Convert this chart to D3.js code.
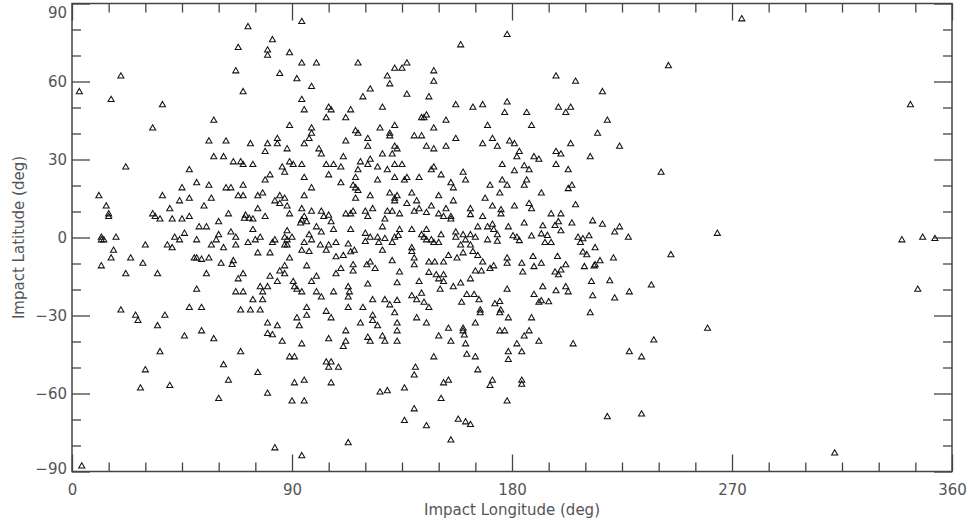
<!DOCTYPE html>
<html>
<head>
<meta charset="utf-8">
<script src="https://cdn.jsdelivr.net/npm/d3@7"></script>
<style>
  body { margin: 0; background: #fff; }
  text { font-family: "DejaVu Sans", sans-serif; }
</style>
</head>
<body>
<svg id="chart" width="968" height="525"></svg>
<script>
// Impact sites, [longitude deg, latitude deg] ------------------------
const impactPoints = [
  [72,81],[82,76],[68,73],[80,72],[80,70],[89,71],[67,64],[85,63],[20,62],[3,56],
  [70,56],[16,53],[37,51],[58,45],[89,43],[33,42],[84,38],[56,37],[63,37],[73,36],
  [80,36],[84,36],[88,34],[79,33],[58,31],[62,31],[94,83],[178,78],[159,74],[94,67],
  [100,67],[117,67],[137,67],[132,65],[135,65],[148,64],[92,61],[129,62],[130,59],[148,60],
  [98,58],[122,57],[119,54],[137,55],[146,54],[94,53],[95,49],[105,50],[106,49],[114,49],
  [127,50],[157,51],[164,50],[168,51],[178,52],[177,48],[104,46],[112,46],[143,46],[144,46],
  [145,47],[153,45],[98,42],[98,40],[126,42],[132,43],[170,43],[148,42],[116,41],[117,40],
  [130,40],[130,39],[97,38],[95,36],[112,37],[121,38],[121,35],[140,39],[143,39],[157,38],
  [172,38],[168,36],[174,35],[179,37],[132,35],[133,34],[131,32],[145,35],[148,34],[153,35],
  [101,34],[102,32],[111,31],[127,32],[122,30],[244,66],[198,62],[206,60],[217,56],[199,50],
  [204,50],[202,48],[186,48],[219,45],[188,43],[215,40],[181,36],[204,36],[224,35],[183,33],
  [198,33],[200,32],[182,31],[189,31],[191,30],[212,31],[66,29],[69,29],[70,28],[74,28],
  [89,29],[22,27],[48,26],[86,27],[87,25],[81,24],[79,22],[51,21],[45,19],[56,20],
  [63,19],[65,19],[70,20],[11,16],[37,16],[44,14],[48,15],[57,15],[68,16],[70,16],
  [76,16],[78,17],[85,16],[87,15],[83,14],[85,13],[88,12],[14,12],[40,11],[54,12],
  [76,11],[64,9],[89,9],[15,9],[15,8],[33,9],[34,8],[36,7],[41,7],[45,7],
  [48,8],[60,6],[71,8.5],[72.5,7.3],[70.5,7.3],[74,7],[79,8],[52,4],[55,4],[74,3],
  [88,2.5],[46,1.5],[42,0],[44,-1],[60,1],[65,2],[67,0],[12,0],[12,-1],[13,-1],
  [18,0],[51,-1],[59,-1],[75,-1],[77,0],[83,-1],[87,0],[88,-1],[30,-3],[39,-3],
  [41,-4],[57,-3],[62,-4],[67,-3],[72,-2],[82,-2],[87,-3],[88,-3],[17,-5],[81,-6],
  [76,-6],[16,-8],[24,-8],[50,-8],[51,-8],[53,-8.5],[56,-8],[66,-9],[89,-8],[12,-11],
  [29,-10],[61,-10],[65.5,-10.5],[87,-11],[22,-14],[35,-14],[55,-14],[70,-14],[85,-13],[87,-14],
  [68,-16],[81,-15],[84,-17],[77,-19],[80,-19],[51,-20],[67,-21],[70,-21],[78,-21],[74,-24],
  [78,-24],[20,-28],[48,-27],[53,-27],[69,-28],[73,-28],[77,-28],[26,-30],[27,-32],[38,-30],
  [35,-34],[46,-38],[53,-36],[58,-39],[80,-33],[84,-34],[80,-37],[82,-37.5],[86,-40],[89,-46],
  [36,-44],[69,-44],[62,-49],[30,-51],[76,-52],[64,-55],[28,-58],[40,-57],[60,-62],[80,-60],
  [90,-63],[83,-81],[4,-88],[96,-30],[104,-28.5],[92,-31],[93,-34],[106,-31],[123,-30],[123,-32],
  [118,-33],[125,-34],[132,-29],[141,-31],[145,-33],[133,-33],[133,-36],[154,-35],[160,-35],[160,-36],
  [160.5,-37.6],[165,-33],[167,-29],[175,-29],[178.5,-31],[175,-36],[177,-36],[112,-36],[112,-40],[111,-42],
  [105,-39],[121,-38.5],[122,-40],[127,-38],[128,-40],[133,-40],[150,-38],[155,-40],[161,-41],[94,-41],
  [91,-46],[104,-48],[106,-48],[105,-50],[109,-50],[148,-46],[161.5,-45],[165,-46],[178.5,-44],[178.5,-47],
  [140.5,-50],[140,-53],[166,-51],[91,-56],[95,-55],[106,-56],[126,-59.5],[129,-59],[136,-58],[152,-56],
  [154,-55],[172,-55],[171,-57],[151,-62],[95,-63],[178,-63],[140,-66],[136,-70.5],[145,-72.5],[158,-70],
  [161,-71],[163,-72],[113,-79],[155,-78],[94,-84],[188,-31],[212,-29],[187,-36],[185,-38],[191,-40],
  [205,-41],[182,-41],[184,-44],[238,-39.5],[260,-35],[228,-44],[233,-46],[184,-55],[184,-56.5],[219,-69],
  [233,-68],[90.5,28],[94,28],[104,28],[107,28],[110,27],[118,29],[121,28],[125,27],[132,28],
  [135,28],[129,26],[117,26],[148,27],[147,26],[151,24],[160,25],[176,28],[95,23],[105,24],
  [116,23],[125,22],[132,23],[137,23],[136,22],[142,23],[155,21],[161,22],[156,19],[171,20],
  [176,22],[178,20],[110,21],[115,20],[116,19],[98,19],[117,18],[116,15],[122,16],[130,17],
  [139,17],[133,16],[132,15],[132,14],[150,16],[169,15],[175,17],[95,16],[137,13],[141,14],
  [156,14],[94,11],[98,10],[102,10],[105,8.5],[103,8],[95,8],[115,10],[112,9],[114,9],
  [120,10],[123,11],[121,8],[129,10],[131,10],[134,9],[140,10],[142,11],[145,9.5],[147,12],
  [153,11],[150,9],[152,8],[155,8],[155,7],[163,11],[163,8.7],[172,12],[175.5,10.6],[175.5,9],
  [168,8],[94,6.6],[96,6],[93.5,5.5],[100,4],[106,6],[107,3],[102,2],[97,1],[98,-1],
  [95,-2],[90,0],[114,3],[120,1.5],[127,4],[128,7],[122,0],[125,0],[128,-0.5],[125.5,-2],
  [131,-2],[132,0],[133.5,0.7],[134,3],[139,3],[145,3],[143,1],[144,0],[147,-1],[148,-2],
  [150,-2],[145,-1],[151,1],[157,2],[160,1],[163,1],[165,0],[157,0],[161,-1],[159,-3],
  [163,-3],[164,-5.5],[160,-6],[157.5,-8],[154,-7],[166,-7],[166,4],[170,4],[172,5],[172.5,3],
  [174,1],[170,-1],[174,-1.5],[178.5,4],[105,-3],[108,-2],[104,-5],[101.6,-3],[94,-5],[97,-5.5],
  [113,-2.6],[114,-5.6],[115.5,-5],[111,-7],[108,-7.5],[120,-1.6],[127,-5],[139,-4],[139,-5.5],[140,-8],
  [131,-9],[96,-11],[115,-10.6],[115,-13],[110,-12],[122,-9.5],[120.6,-10.6],[124,-12],[140,-10.6],[146,-9.5],
  [148.4,-9.5],[152,-9.5],[168,-9.5],[172.5,-11],[178,-8],[178,-10],[165,-13],[167.5,-13],[171,-12],[108,-14],
  [100,-15],[134,-13.4],[146,-13.5],[149,-14.4],[152,-14.4],[150,-16],[152,-17],[163,-16],[90.5,-17],[98,-17],
  [91,-19],[92,-20],[94,-21],[100,-21],[102,-23],[107,-21],[113,-19],[113.5,-21],[113,-23],[121,-18],
  [133,-17.5],[142,-17],[150.6,-20],[156,-19],[159,-17.6],[161.5,-22],[164.5,-22],[166.5,-24],[178,-20],[139,-22.5],
  [143,-21.5],[141,-24],[144,-25],[146,-27],[123,-24],[128,-24],[133,-24.3],[130,-26],[159.4,-25],[175,-24.7],
  [173,-25.6],[175.4,-28],[167,-28],[96,-27],[113,-27],[119,-27],[198,28],[203,26],[185,27.5],[187,26],
  [181,25.6],[241,25],[186,22],[185,20],[204.5,20],[203,18.7],[192,17],[181,12],[187,13],[188,11],
  [206,12.5],[196,9],[200,9],[199,6],[197.6,4.5],[200,2.5],[185,5.5],[192.6,4.4],[204.5,5.5],[213,6.3],
  [217,5],[224,4],[222,2],[227.6,0],[264,1.5],[245,-6.7],[180.4,0.6],[182,0],[183,-1.3],[188,0.5],
  [192,1.3],[194.5,0.7],[193.5,-2],[196,-2],[207,0],[209,-0.6],[211.5,0.6],[208,-2],[214,-4],[209,-5.7],
  [210.6,-6.7],[216,-9],[214,-10.6],[213.6,-11],[209.6,-11.3],[221.5,-8],[188.6,-7.4],[198.6,-7.4],[184,-10],[189,-11.3],
  [192,-10],[202,-10.6],[184.4,-13.4],[197.6,-13.4],[200,-12.6],[199,-14.4],[212.5,-17],[220,-16.7],[237,-18.4],[192.6,-19],
  [198,-20.6],[202,-19],[203,-21],[213,-22.5],[222,-23.4],[228,-21],[189,-22],[191,-25],[192,-24.4],[195,-24.8],
  [274,84],[343,51],[339.5,-1],[348,0],[353,-0.5],[346,-20],[312,-83]
];

// Axis ticks ---------------------------------------------------------
const lonMajor = [0, 90, 180, 270, 360];
const lonMinor = [15, 30, 45, 60, 75, 105, 120, 135, 150, 165, 195, 210, 225, 240, 255,
                  285, 300, 315, 330, 345];
const latMajor = [-90, -60, -30, 0, 30, 60, 90];
const latMinor = [-80, -70, -50, -40, -20, -10, 10, 20, 40, 50, 70, 80];

const margin = { top: 3.5, right: 16, bottom: 53.5, left: 72 },
      fullW = 968, fullH = 525,
      width = fullW - margin.left - margin.right,
      height = fullH - margin.top - margin.bottom;

const svg = d3.select("#chart").append("g")
  .attr("transform", `translate(${margin.left},${margin.top})`);

const x = d3.scaleLinear().domain([0, 360]).range([0, width]);
const y = d3.scaleLinear().domain([-90, 90]).range([height, 0]);

const fmt = d => d < 0 ? "\u2212" + Math.abs(d) : String(d);
const axisCol = "#444";

function styleAxis(g) {
  g.select(".domain").remove();
  g.selectAll(".tick line").attr("stroke", axisCol).attr("stroke-width", 1.3);
  g.selectAll(".tick text").attr("fill", "#555").style("font-size", "15px");
}

// Minor ticks (all four sides) --------------------------------------
svg.append("g").attr("transform", `translate(0,${height})`)
  .call(d3.axisBottom(x).tickValues(lonMinor).tickSize(-9).tickFormat(""))
  .call(styleAxis);
svg.append("g")
  .call(d3.axisTop(x).tickValues(lonMinor).tickSize(-9).tickFormat(""))
  .call(styleAxis);
svg.append("g")
  .call(d3.axisLeft(y).tickValues(latMinor).tickSize(-9).tickFormat(""))
  .call(styleAxis);
svg.append("g").attr("transform", `translate(${width},0)`)
  .call(d3.axisRight(y).tickValues(latMinor).tickSize(-9).tickFormat(""))
  .call(styleAxis);

// Major ticks -------------------------------------------------------
svg.append("g").attr("transform", `translate(0,${height})`)
  .call(d3.axisBottom(x).tickValues(lonMajor).tickSize(-17).tickPadding(13).tickFormat(fmt))
  .call(styleAxis);
svg.append("g")
  .call(d3.axisTop(x).tickValues(lonMajor).tickSize(-17).tickFormat(""))
  .call(styleAxis);
const yAxisG = svg.append("g")
  .call(d3.axisLeft(y).tickValues(latMajor).tickSize(-18).tickPadding(5).tickFormat(fmt))
  .call(styleAxis);
svg.append("g").attr("transform", `translate(${width},0)`)
  .call(d3.axisRight(y).tickValues(latMajor).tickSize(-18).tickFormat(""))
  .call(styleAxis);

// keep the end labels inside the picture
yAxisG.selectAll(".tick text")
  .attr("dy", d => d === 90 ? "0.95em" : d === -90 ? "0.1em" : "0.32em");

// Frame -------------------------------------------------------------
svg.append("rect")
  .attr("width", width).attr("height", height)
  .attr("fill", "none").attr("stroke", axisCol).attr("stroke-width", 1.5);

// Points ------------------------------------------------------------
const tri = d3.symbol(d3.symbolTriangle, 16);
svg.append("g").selectAll("path")
  .data(impactPoints)
  .join("path")
    .attr("d", tri)
    .attr("transform", d => `translate(${x(d[0])},${y(d[1])})`)
    .attr("fill", "none")
    .attr("stroke", "#111")
    .attr("stroke-width", 1.05);

// Titles ------------------------------------------------------------
svg.append("text")
  .attr("x", width / 2).attr("y", height + 43)
  .attr("text-anchor", "middle")
  .attr("fill", "#555").style("font-size", "15px")
  .text("Impact Longitude (deg)");

svg.append("text")
  .attr("transform", `translate(${-margin.left + 24},${height / 2}) rotate(-90)`)
  .attr("text-anchor", "middle")
  .attr("fill", "#555").style("font-size", "15px")
  .text("Impact Latitude (deg)");
</script>
</body>
</html>
